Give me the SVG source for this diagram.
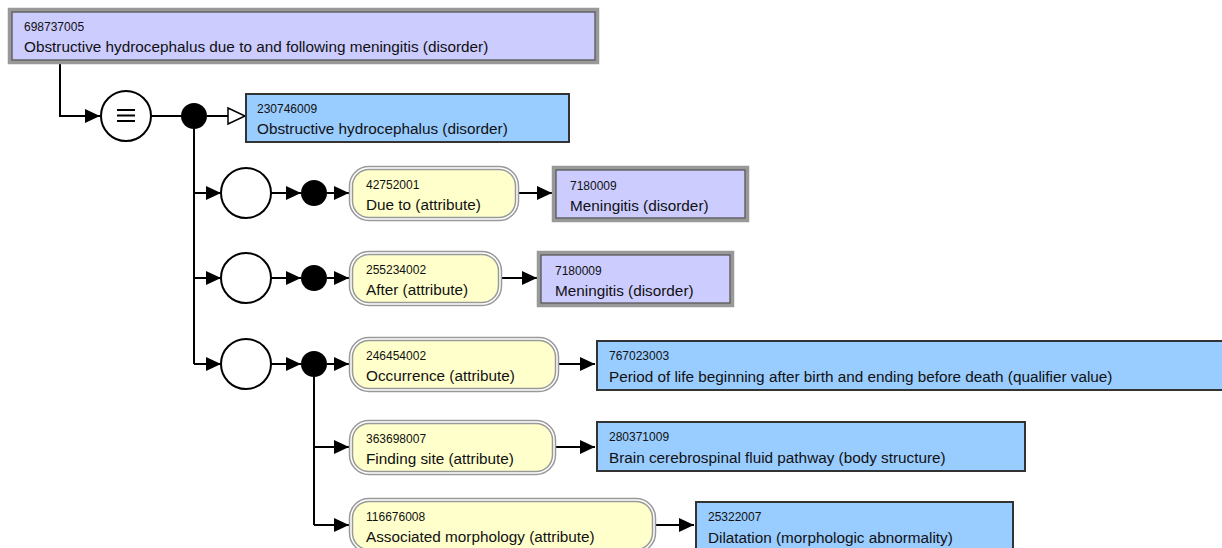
<svg xmlns="http://www.w3.org/2000/svg" width="1222" height="548" viewBox="0 0 1222 548">
<style>
text{font-family:"Liberation Sans",Arial,sans-serif;fill:#111}
.id{font-size:12px}
.nm{font-size:15.3px}
.prim{fill:#ccccff}
.def{fill:#99ccff;stroke:#333;stroke-width:2}
.attr{fill:#ffffcc}
.o1{fill:none;stroke:#999;stroke-width:4.5}
.o2{fill:none;stroke:#fff;stroke-width:1.5}
.p2{fill:none;stroke:#555;stroke-width:1.2}
.c{fill:none;stroke:#000;stroke-width:2}
.ring{fill:#fff;stroke:#000;stroke-width:2}
.dot{fill:#000}
</style>
<defs>
<marker id="a" markerUnits="userSpaceOnUse" markerWidth="16" markerHeight="16" viewBox="0 0 16 16" refX="15" refY="8" orient="auto"><path d="M0,1 L15,8 L0,15 z" fill="#000"/></marker>
<marker id="o" markerUnits="userSpaceOnUse" markerWidth="20" markerHeight="20" viewBox="0 0 20 20" refX="18" refY="10" orient="auto"><path d="M1,2 L18,10 L1,18 z" fill="#fff" stroke="#000" stroke-width="1.5"/></marker>
</defs>

<g id="connectors">
<path class="c" d="M60,63 V116 H100" marker-end="url(#a)"/>
<path class="c" d="M151,116 H182"/>
<path class="c" d="M207,116 H245" marker-end="url(#o)"/>
<path class="c" d="M194,129 V364"/>
<path class="c" d="M194,193 H221" marker-end="url(#a)"/>
<path class="c" d="M194,278 H221" marker-end="url(#a)"/>
<path class="c" d="M194,364 H221" marker-end="url(#a)"/>
<path class="c" d="M271,193 H301" marker-end="url(#a)"/>
<path class="c" d="M271,278 H301" marker-end="url(#a)"/>
<path class="c" d="M271,364 H301" marker-end="url(#a)"/>
<path class="c" d="M327,193 H349" marker-end="url(#a)"/>
<path class="c" d="M327,278 H349" marker-end="url(#a)"/>
<path class="c" d="M327,364 H349" marker-end="url(#a)"/>
<path class="c" d="M314,377 V525"/>
<path class="c" d="M314,447 H349" marker-end="url(#a)"/>
<path class="c" d="M314,525 H349" marker-end="url(#a)"/>
<path class="c" d="M518,193 H552" marker-end="url(#a)"/>
<path class="c" d="M501,278 H537" marker-end="url(#a)"/>
<path class="c" d="M558,364 H595" marker-end="url(#a)"/>
<path class="c" d="M555,447 H595" marker-end="url(#a)"/>
<path class="c" d="M655,525 H694" marker-end="url(#a)"/>
</g>

<g id="n698737005">
<rect class="prim" x="10" y="10" width="587" height="52"/>
<rect class="o1" x="10" y="10" width="587" height="52"/>
<rect class="p2" x="12" y="12" width="583" height="48"/>
<text class="id" x="24" y="31">698737005</text>
<text class="nm" x="24" y="52">Obstructive hydrocephalus due to and following meningitis (disorder)</text>
</g>

<g id="equiv">
<circle class="ring" cx="126" cy="116" r="25"/>
<path d="M117,110 H135 M117,115.5 H135 M117,121 H135" stroke="#000" stroke-width="2"/>
</g>
<g id="conj0"><circle class="dot" cx="194" cy="116" r="13"/></g>

<g id="n230746009">
<rect class="def" x="246" y="94" width="323" height="48"/>
<text class="id" x="257" y="113">230746009</text>
<text class="nm" x="257" y="134">Obstructive hydrocephalus (disorder)</text>
</g>

<g id="group1"><circle class="ring" cx="246" cy="193" r="25"/><circle class="dot" cx="314" cy="193" r="13"/></g>
<g id="group2"><circle class="ring" cx="246" cy="278" r="25"/><circle class="dot" cx="314" cy="278" r="13"/></g>
<g id="group3"><circle class="ring" cx="246" cy="364" r="25"/><circle class="dot" cx="314" cy="364" r="13"/></g>

<g id="a42752001">
<rect class="attr" x="351" y="168" width="166" height="51" rx="18"/>
<rect class="o1" x="351" y="168" width="166" height="51" rx="18"/>
<rect class="o2" x="351" y="168" width="166" height="51" rx="18"/>
<text class="id" x="366" y="189">42752001</text>
<text class="nm" x="366" y="210">Due to (attribute)</text>
</g>
<g id="v7180009a">
<rect class="prim" x="554" y="168" width="193" height="52"/>
<rect class="o1" x="554" y="168" width="193" height="52"/>
<rect class="p2" x="556" y="170" width="189" height="48"/>
<text class="id" x="570" y="190">7180009</text>
<text class="nm" x="570" y="211">Meningitis (disorder)</text>
</g>

<g id="a255234002">
<rect class="attr" x="351" y="253" width="149" height="51" rx="18"/>
<rect class="o1" x="351" y="253" width="149" height="51" rx="18"/>
<rect class="o2" x="351" y="253" width="149" height="51" rx="18"/>
<text class="id" x="366" y="274">255234002</text>
<text class="nm" x="366" y="295">After (attribute)</text>
</g>
<g id="v7180009b">
<rect class="prim" x="539" y="253" width="193" height="52"/>
<rect class="o1" x="539" y="253" width="193" height="52"/>
<rect class="p2" x="541" y="255" width="189" height="48"/>
<text class="id" x="555" y="275">7180009</text>
<text class="nm" x="555" y="296">Meningitis (disorder)</text>
</g>

<g id="a246454002">
<rect class="attr" x="351" y="339" width="206" height="51" rx="18"/>
<rect class="o1" x="351" y="339" width="206" height="51" rx="18"/>
<rect class="o2" x="351" y="339" width="206" height="51" rx="18"/>
<text class="id" x="366" y="360">246454002</text>
<text class="nm" x="366" y="381">Occurrence (attribute)</text>
</g>
<g id="v767023003">
<rect class="def" x="597" y="341" width="626" height="49"/>
<text class="id" x="609" y="360">767023003</text>
<text class="nm" x="609" y="382">Period of life beginning after birth and ending before death (qualifier value)</text>
</g>

<g id="a363698007">
<rect class="attr" x="351" y="422" width="203" height="51" rx="18"/>
<rect class="o1" x="351" y="422" width="203" height="51" rx="18"/>
<rect class="o2" x="351" y="422" width="203" height="51" rx="18"/>
<text class="id" x="366" y="443">363698007</text>
<text class="nm" x="366" y="464">Finding site (attribute)</text>
</g>
<g id="v280371009">
<rect class="def" x="597" y="422" width="428" height="49"/>
<text class="id" x="609" y="441">280371009</text>
<text class="nm" x="609" y="463">Brain cerebrospinal fluid pathway (body structure)</text>
</g>

<g id="a116676008">
<rect class="attr" x="351" y="500" width="303" height="51" rx="18"/>
<rect class="o1" x="351" y="500" width="303" height="51" rx="18"/>
<rect class="o2" x="351" y="500" width="303" height="51" rx="18"/>
<text class="id" x="366" y="521">116676008</text>
<text class="nm" x="366" y="542">Associated morphology (attribute)</text>
</g>
<g id="v25322007">
<rect class="def" x="696" y="502" width="317" height="49"/>
<text class="id" x="708" y="521">25322007</text>
<text class="nm" x="708" y="543">Dilatation (morphologic abnormality)</text>
</g>
</svg>
